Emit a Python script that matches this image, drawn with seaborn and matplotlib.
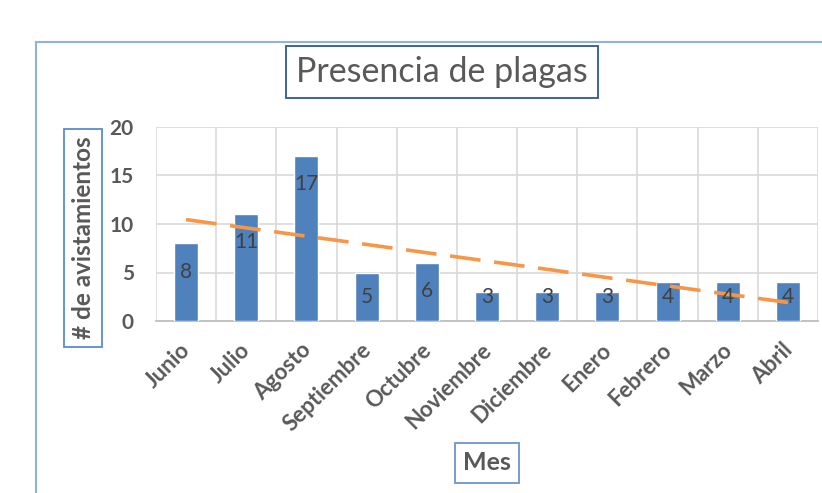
import numpy as np
import pandas as pd
import matplotlib
matplotlib.use("Agg")
import matplotlib.pyplot as plt
import matplotlib.transforms as mtransforms
from matplotlib.lines import Line2D
from matplotlib.ticker import FixedLocator
import seaborn as sns

meses = ["Junio", "Julio", "Agosto", "Septiembre", "Octubre", "Noviembre",
         "Diciembre", "Enero", "Febrero", "Marzo", "Abril"]
avistamientos = [8, 11, 17, 5, 6, 3, 3, 3, 4, 4, 4]
y_ticks = [0, 5, 10, 15, 20]

titulo = "Presencia de plagas"
etiqueta_y = "# de avistamientos"
etiqueta_x = "Mes"

BAR = "#4F81BD"
TREND = "#F79646"
TXT = "#595959"
GRID = "#D9D9D9"

sns.set_theme(style="white")
plt.rcParams["font.family"] = ["Lato", "DejaVu Sans"]

df = pd.DataFrame({"mes": meses, "n": avistamientos})

fig = plt.figure(figsize=(8.22, 4.93), dpi=100)
ax = fig.add_axes([156 / 822, 172 / 493, 662 / 822, 194 / 493])

sns.barplot(data=df, x="mes", y="n", color=BAR, width=0.4, saturation=1,
            ax=ax, zorder=3)

# linear trend across the months
xs = np.arange(len(avistamientos))
coef = np.polyfit(xs + 1, avistamientos, 1)
trend = np.polyval(coef, xs + 1)
sns.lineplot(x=xs, y=trend, ax=ax, color=TREND, lw=2.6, zorder=4)
ax.lines[-1].set_dashes((8.5, 3.8))
ax.lines[-1].set_dash_capstyle("butt")

ax.set_xlim(-0.5, len(meses) - 0.5)
ax.set_ylim(0, 20)
ax.yaxis.set_major_locator(FixedLocator(y_ticks))
ax.xaxis.set_minor_locator(FixedLocator(np.arange(-0.5, len(meses), 1.0)))
ax.grid(axis="y", which="major", color=GRID, lw=1.2, zorder=0)
ax.grid(axis="x", which="minor", color=GRID, lw=1.2, zorder=0)
ax.set_axisbelow(True)
for side in ["top", "right", "left"]:
    ax.spines[side].set_visible(False)
ax.spines["bottom"].set_color("#BFBFBF")
ax.spines["bottom"].set_linewidth(1.3)
ax.tick_params(axis="both", which="both", length=0)
ax.tick_params(axis="y", pad=16)

ax.set_yticklabels([str(t) for t in y_ticks], fontsize=15, fontweight="bold",
                   color=TXT)
ax.set_xticks(xs)
ax.set_xticklabels(meses, fontsize=16, fontweight="bold", color=TXT,
                   rotation=45, ha="right", va="center",
                   rotation_mode="anchor")
offset = mtransforms.ScaledTranslation(1 / 100, -21 / 100, fig.dpi_scale_trans)
for lbl in ax.get_xticklabels():
    lbl.set_transform(lbl.get_transform() + offset)

ax.set_xlabel("")
ax.set_ylabel("")

# value labels inside the bars
for i, v in enumerate(avistamientos):
    ax.text(i, max(v - 2.9, 2.5), str(v), ha="center", va="center",
            fontsize=15, color="#404040", zorder=5)

fig.text(442 / 822, 1 - 72 / 493, titulo, ha="center", va="center",
         fontsize=24.5, color=TXT,
         bbox=dict(boxstyle="square,pad=0.3", fc="white", lw=1.3,
                   ec="#2F5597"))
fig.text(83 / 822, 1 - 238 / 493, etiqueta_y, ha="center", va="center",
         rotation=90, fontsize=17.5, fontweight="bold", color=TXT,
         bbox=dict(boxstyle="square,pad=0.3", fc="white", lw=1.3,
                   ec="#5B8BD0"))
fig.text(487 / 822, 1 - 463 / 493, etiqueta_x, ha="center", va="center",
         fontsize=18, fontweight="bold", color=TXT,
         bbox=dict(boxstyle="square,pad=0.33", fc="white", lw=1.3,
                   ec="#6A95D6"))

# chart area border
fig.add_artist(Line2D([36 / 822, 1.0], [1 - 42 / 493, 1 - 42 / 493],
                      color="#8DB3E2", lw=1.5, transform=fig.transFigure))
fig.add_artist(Line2D([36 / 822, 36 / 822], [0, 1 - 42 / 493],
                      color="#8DB3E2", lw=1.5, transform=fig.transFigure))

fig.savefig("out.png", dpi=100, facecolor="white")
